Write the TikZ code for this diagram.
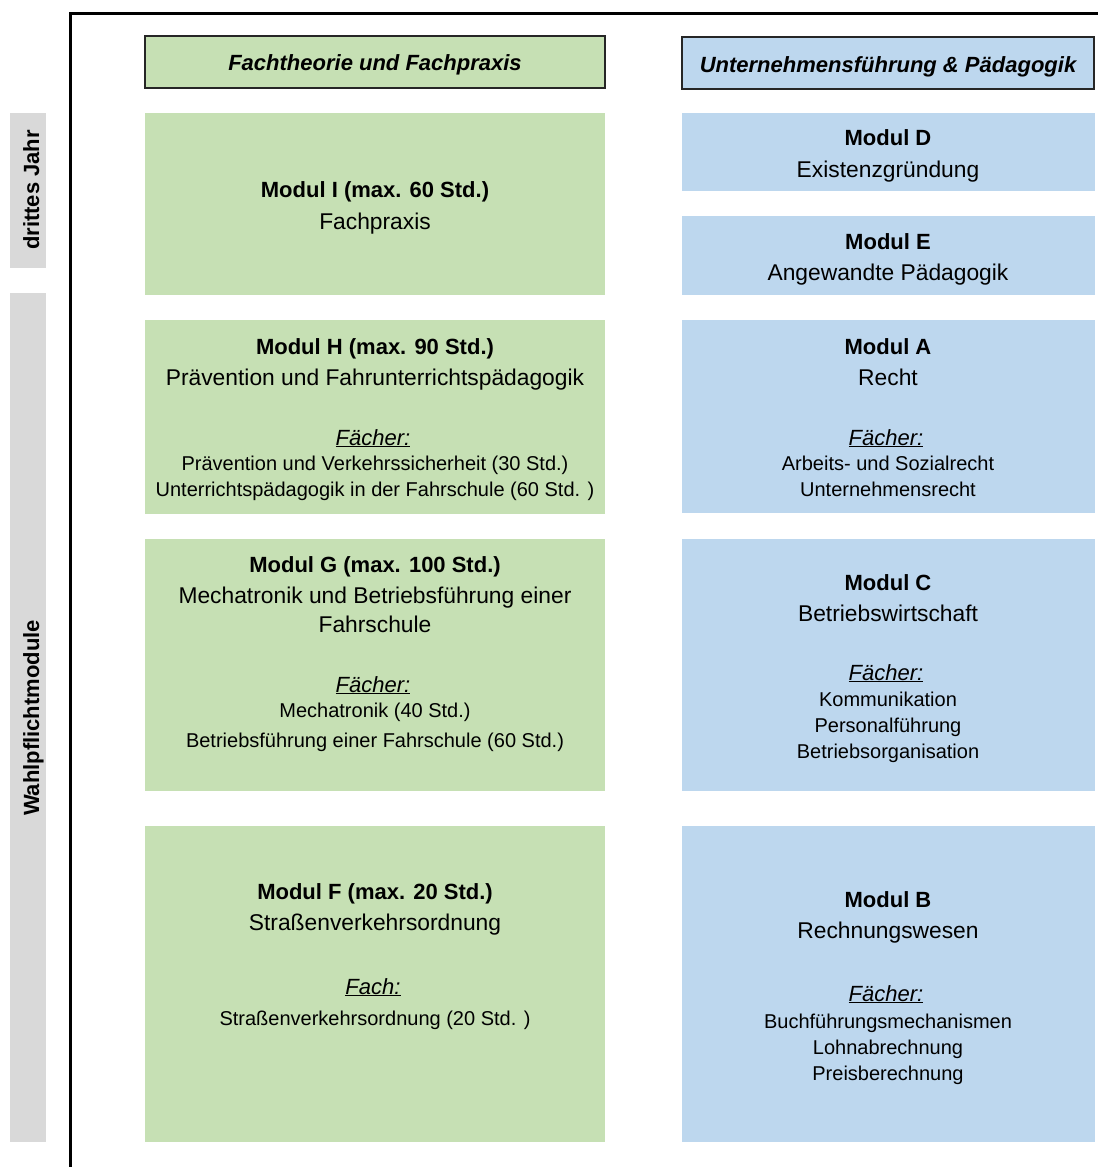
\documentclass[tikz,border=0pt]{standalone}
\usepackage{fontspec}
\setmainfont{Liberation Sans}
\definecolor{gfill}{HTML}{C6E0B4}
\definecolor{bfill}{HTML}{BDD7EE}
\definecolor{sfill}{HTML}{D9D9D9}
\begin{document}
\begin{tikzpicture}[x=1pt,y=-1pt,
  boxbase/.style={anchor=north west, inner sep=0pt, outer sep=0pt},
  gbox/.style={boxbase, fill=gfill},
  bbox/.style={boxbase, fill=bfill},
  sbox/.style={boxbase, fill=sfill},
  hdr/.style={boxbase, draw=black!85, line width=1.6pt},
  tmain/.style={anchor=base, inner sep=0pt, font=\fontsize{22.8}{26}\selectfont},
  tbold/.style={anchor=base, inner sep=0pt, font=\fontsize{22}{26}\selectfont\bfseries},
  thead/.style={anchor=base, inner sep=0pt, font=\fontsize{22}{26}\selectfont\bfseries\itshape},
  tsmall/.style={anchor=base, inner sep=0pt, font=\fontsize{20}{23}\selectfont},
  tfach/.style={anchor=base, inner sep=0pt, font=\fontsize{22}{26}\selectfont\itshape},
  tside/.style={anchor=base, inner sep=0pt, rotate=90, font=\fontsize{22}{26}\selectfont\bfseries}
]
\useasboundingbox (0,0) rectangle (1098,1167);
\fill[white] (0,0) rectangle (1098,1167);

% frame
\coordinate (fB) at (70,1167);
\coordinate (fTL) at (70,13.5);
\coordinate (fR) at (1098,13.5);
\draw[line width=3pt] (fB) -- (fTL) -- (fR);

% side labels
\node[sbox, minimum width=36pt, minimum height=155pt] (s1) at (10,113) {};
\node[sbox, minimum width=36pt, minimum height=849pt] (s2) at (10,293) {};
\node[tside] (s1t) at (39,190) {drittes Jahr};
\node[tside] (s2t) at (39,718) {Wahlpflichtmodule};

% headers
\node[hdr, fill=gfill, minimum width=460pt, minimum height=52pt] (hL) at (145,36) {};
\node[hdr, fill=bfill, minimum width=412pt, minimum height=52pt] (hR) at (682,37) {};
\node[thead] (hLt) at (375,70) {Fachtheorie und Fachpraxis};
\node[thead] (hRt) at (888,72) {Unternehmensführung \& Pädagogik};

% left modules
\node[gbox, minimum width=460pt, minimum height=182pt] (I) at (145,113) {};
\node[gbox, minimum width=460pt, minimum height=194pt] (H) at (145,320) {};
\node[gbox, minimum width=460pt, minimum height=252pt] (G) at (145,539) {};
\node[gbox, minimum width=460pt, minimum height=316pt] (F) at (145,826) {};

% right modules
\node[bbox, minimum width=413pt, minimum height=78pt] (D) at (682,113) {};
\node[bbox, minimum width=413pt, minimum height=79pt] (E) at (682,216) {};
\node[bbox, minimum width=413pt, minimum height=193pt] (A) at (682,320) {};
\node[bbox, minimum width=413pt, minimum height=252pt] (C) at (682,539) {};
\node[bbox, minimum width=413pt, minimum height=316pt] (B) at (682,826) {};

% Modul I
\node[tbold] (I1) at (375,197) {Modul I (max. 60 Std.)};
\node[tmain] (I2) at (375,229) {Fachpraxis};

% Modul H
\node[tbold] (H1) at (375,354) {Modul H (max. 90 Std.)};
\node[tmain] (H2) at (375,385) {Prävention und Fahrunterrichtspädagogik};
\node[tfach] (H3) at (373,445) {\underline{Fächer:}};
\node[tsmall] (H4) at (375,470) {Prävention und Verkehrssicherheit (30 Std.)};
\node[tsmall] (H5) at (375,496) {Unterrichtspädagogik in der Fahrschule (60 Std. )};

% Modul G
\node[tbold] (G1) at (375,572) {Modul G (max. 100 Std.)};
\node[tmain] (G2) at (375,603) {Mechatronik und Betriebsführung einer};
\node[tmain] (G3) at (375,632) {Fahrschule};
\node[tfach] (G4) at (373,692) {\underline{Fächer:}};
\node[tsmall] (G5) at (375,717) {Mechatronik (40 Std.)};
\node[tsmall] (G6) at (375,747) {Betriebsführung einer Fahrschule (60 Std.)};

% Modul F
\node[tbold] (F1) at (375,899) {Modul F (max. 20 Std.)};
\node[tmain] (F2) at (375,930) {Straßenverkehrsordnung};
\node[tfach] (F3) at (373,994) {\underline{Fach:}};
\node[tsmall] (F4) at (375,1025) {Straßenverkehrsordnung (20 Std. )};

% Modul D
\node[tbold] (D1) at (888,145) {Modul D};
\node[tmain] (D2) at (888,177) {Existenzgründung};

% Modul E
\node[tbold] (E1) at (888,249) {Modul E};
\node[tmain] (E2) at (888,280) {Angewandte Pädagogik};

% Modul A
\node[tbold] (A1) at (888,354) {Modul A};
\node[tmain] (A2) at (888,385) {Recht};
\node[tfach] (A3) at (886,445) {\underline{Fächer:}};
\node[tsmall] (A4) at (888,470) {Arbeits- und Sozialrecht};
\node[tsmall] (A5) at (888,496) {Unternehmensrecht};

% Modul C
\node[tbold] (C1) at (888,590) {Modul C};
\node[tmain] (C2) at (888,621) {Betriebswirtschaft};
\node[tfach] (C3) at (886,680) {\underline{Fächer:}};
\node[tsmall] (C4) at (888,706) {Kommunikation};
\node[tsmall] (C5) at (888,732) {Personalführung};
\node[tsmall] (C6) at (888,758) {Betriebsorganisation};

% Modul B
\node[tbold] (B1) at (888,907) {Modul B};
\node[tmain] (B2) at (888,938) {Rechnungswesen};
\node[tfach] (B3) at (886,1001) {\underline{Fächer:}};
\node[tsmall] (B4) at (888,1028) {Buchführungsmechanismen};
\node[tsmall] (B5) at (888,1054) {Lohnabrechnung};
\node[tsmall] (B6) at (888,1080) {Preisberechnung};
\end{tikzpicture}
\end{document}
